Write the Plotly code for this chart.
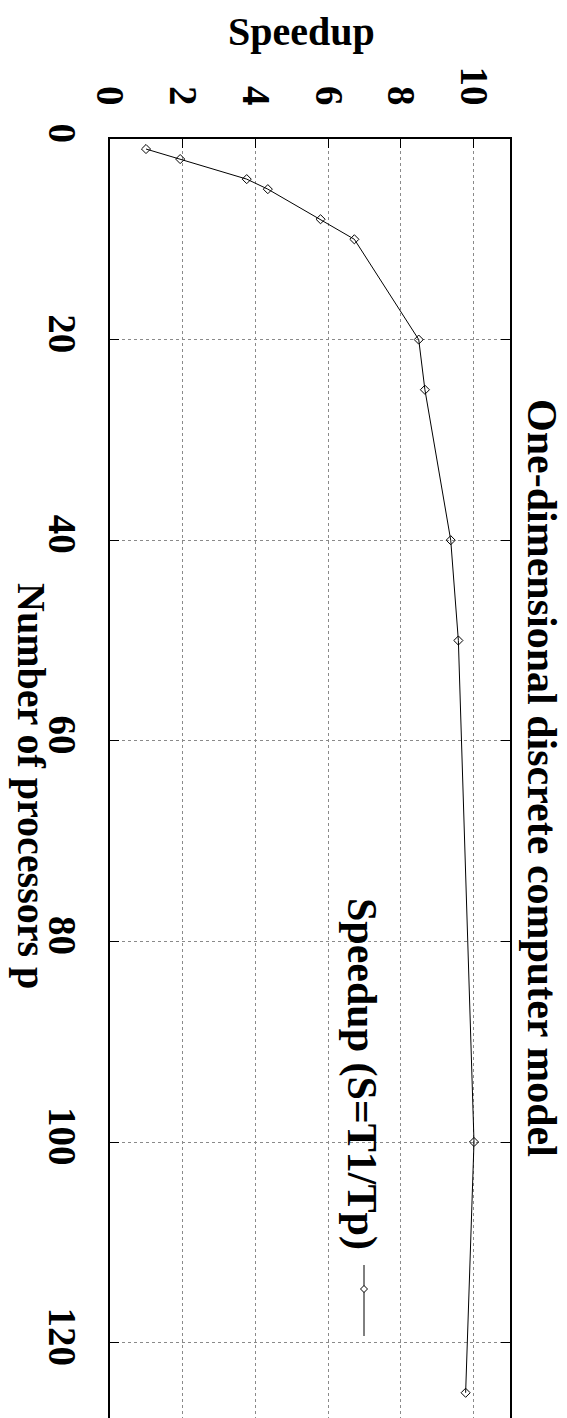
import plotly.graph_objects as go

# ---- data ----
processors = [1, 2, 4, 5, 8, 10, 20, 25, 40, 50, 100, 125]
speedup = [0.99, 1.93, 3.76, 4.34, 5.79, 6.72, 8.49, 8.66, 9.37, 9.58, 10.01, 9.78]
speedup_ticks = [0, 2, 4, 6, 8, 10]
proc_ticks = [0, 20, 40, 60, 80, 100, 120]
series_name = "Speedup (S=T1/Tp)"
title_text = "One-dimensional discrete computer model"
xlabel_text = "Number of processors p"
ylabel_text = "Speedup"

W, H = 567, 1418
L, R, T, B = 102, 65, 131, 0
PW = W - L - R
PH = H - T - B
P_MAX = PH / 10.03


def px(x):
    return (x - L) / PW


def py(y):
    return 1 - (y - T) / PH


FONT = "Liberation Serif"

fig = go.Figure()
fig.add_trace(go.Scatter(
    x=speedup, y=processors, mode="lines+markers",
    line=dict(color="black", width=1),
    marker=dict(symbol="diamond-open", size=7, color="black", line=dict(width=1, color="black")),
    showlegend=False, cliponaxis=False,
))

axis_common = dict(
    ticks="inside", ticklen=9, tickcolor="black", tickwidth=1,
    showgrid=True, gridcolor="#8a8a8a", griddash="dot", gridwidth=1,
    showline=True, linecolor="black", linewidth=1.5,
    zeroline=False, tickangle=90,
    tickfont=dict(family=FONT, size=39, color="black", weight="bold"),
)

fig.update_layout(
    width=W, height=H,
    margin=dict(l=L, r=R, t=T, b=B, pad=0),
    paper_bgcolor="white", plot_bgcolor="white",
    font=dict(family=FONT, color="black"),
    xaxis=dict(side="top", range=[0, 11], tickvals=speedup_ticks, mirror=False,
               ticklabelstandoff=18, **axis_common),
    yaxis=dict(range=[P_MAX, 0], tickvals=proc_ticks, mirror="ticks",
               ticklabelstandoff=12, **axis_common),
    showlegend=False,
)

ann_font = dict(family=FONT, size=40, color="black", weight="bold")
big_font = dict(family=FONT, size=42, color="black", weight="bold")
fig.add_annotation(x=px(293), y=py(24), xref="paper", yref="paper", text=ylabel_text,
                   showarrow=False, textangle=0, font=ann_font, xanchor="center", yanchor="middle")
fig.add_annotation(x=px(534), y=py(770), xref="paper", yref="paper", text=title_text,
                   showarrow=False, textangle=90, font=big_font, xanchor="center", yanchor="middle")
fig.add_annotation(x=px(24), y=py(778), xref="paper", yref="paper", text=xlabel_text,
                   showarrow=False, textangle=90, font=ann_font, xanchor="center", yanchor="middle")
fig.add_annotation(x=px(354), y=py(1066), xref="paper", yref="paper", text=series_name,
                   showarrow=False, textangle=90, font=big_font, xanchor="center", yanchor="middle")

# legend key sample (line + marker), drawn in paper space
fig.add_shape(type="line", xref="paper", yref="paper",
              x0=px(356), x1=px(356), y0=py(1257), y1=py(1328),
              line=dict(color="black", width=1))
d = 3.5
cx, cy = 356, 1281
path = "M {} {} L {} {} L {} {} L {} {} Z".format(
    px(cx), py(cy - d), px(cx + d), py(cy), px(cx), py(cy + d), px(cx - d), py(cy))
fig.add_shape(type="path", xref="paper", yref="paper", path=path,
              line=dict(color="black", width=1), fillcolor="white")

fig.write_html("out.html")
